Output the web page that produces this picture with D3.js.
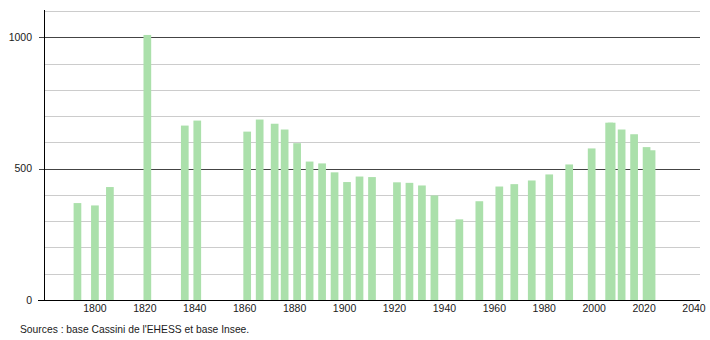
<!DOCTYPE html>
<html><head><meta charset="utf-8">
<script src="https://cdn.jsdelivr.net/npm/d3@7"></script>
<style>
html,body{margin:0;padding:0;background:#fff;}
svg{display:block;}
text{font-family:"Liberation Sans",Arial,sans-serif;}
</style></head>
<body>
<svg id="chart" width="710" height="340"></svg>
<script>
const years = [1793,1800,1806,1821,1836,1841,1861,1866,1872,1876,1881,1886,1891,1896,1901,1906,1911,1921,1926,1931,1936,1946,1954,1962,1968,1975,1982,1990,1999,2006,2007,2011,2016,2021,2023];
const population = [369,360,430,1009,664,683,641,687,671,649,597,527,520,486,449,470,468,448,446,436,398,307,376,432,441,455,478,516,577,675,675,649,631,582,570];
const xTicks = [1800,1820,1840,1860,1880,1900,1920,1940,1960,1980,2000,2020,2040];
const yMajor = [0,500,1000];
const yGrid = [100,200,300,400,600,700,800,900,1100];
const source = "Sources : base Cassini de l'EHESS et base Insee.";

const svg = d3.select("#chart");
const x = d3.scaleLinear().domain([1780, 2042]).range([45, 699]);
const y = d3.scaleLinear().domain([0, 1104]).range([300, 10]);
const barW = 7.7;

// light gridlines
svg.append("g").selectAll("line").data(yGrid).join("line")
  .attr("x1", 44).attr("x2", 700)
  .attr("y1", d => Math.round(y(d)) + 0.5).attr("y2", d => Math.round(y(d)) + 0.5)
  .attr("stroke", "#cccccc").attr("stroke-width", 1);

// dark gridlines
svg.append("g").selectAll("line").data(yMajor.filter(d => d > 0)).join("line")
  .attr("x1", 39).attr("x2", 700)
  .attr("y1", d => Math.round(y(d)) + 0.5).attr("y2", d => Math.round(y(d)) + 0.5)
  .attr("stroke", "#444444").attr("stroke-width", 1);

// bars
svg.append("g").selectAll("rect").data(years).join("rect")
  .attr("x", (d) => x(d) - barW / 2)
  .attr("width", barW)
  .attr("y", (d, i) => y(population[i]))
  .attr("height", (d, i) => y(0) - y(population[i]))
  .attr("fill", "#abe0ab");

// y axis line
svg.append("line").attr("x1", 44.5).attr("x2", 44.5).attr("y1", 10).attr("y2", 300)
  .attr("stroke", "#000").attr("stroke-width", 1);
// x axis line
svg.append("line").attr("x1", 38).attr("x2", 700).attr("y1", 300.5).attr("y2", 300.5)
  .attr("stroke", "#000").attr("stroke-width", 1);

// y labels
svg.append("g").selectAll("text").data(yMajor).join("text")
  .attr("x", 32).attr("y", d => y(d) + 3.5)
  .attr("text-anchor", "end").attr("font-size", 10.5).attr("fill", "#1a1a1a")
  .text(d => d);

// x labels
svg.append("g").selectAll("text").data(xTicks).join("text")
  .attr("x", d => x(d)).attr("y", 312)
  .attr("text-anchor", "middle").attr("font-size", 10.5).attr("fill", "#1a1a1a")
  .text(d => d);

// source
svg.append("text").attr("x", 20).attr("y", 333)
  .attr("font-size", 10.3).attr("fill", "#1a1a1a").text(source);
</script>
</body></html>
